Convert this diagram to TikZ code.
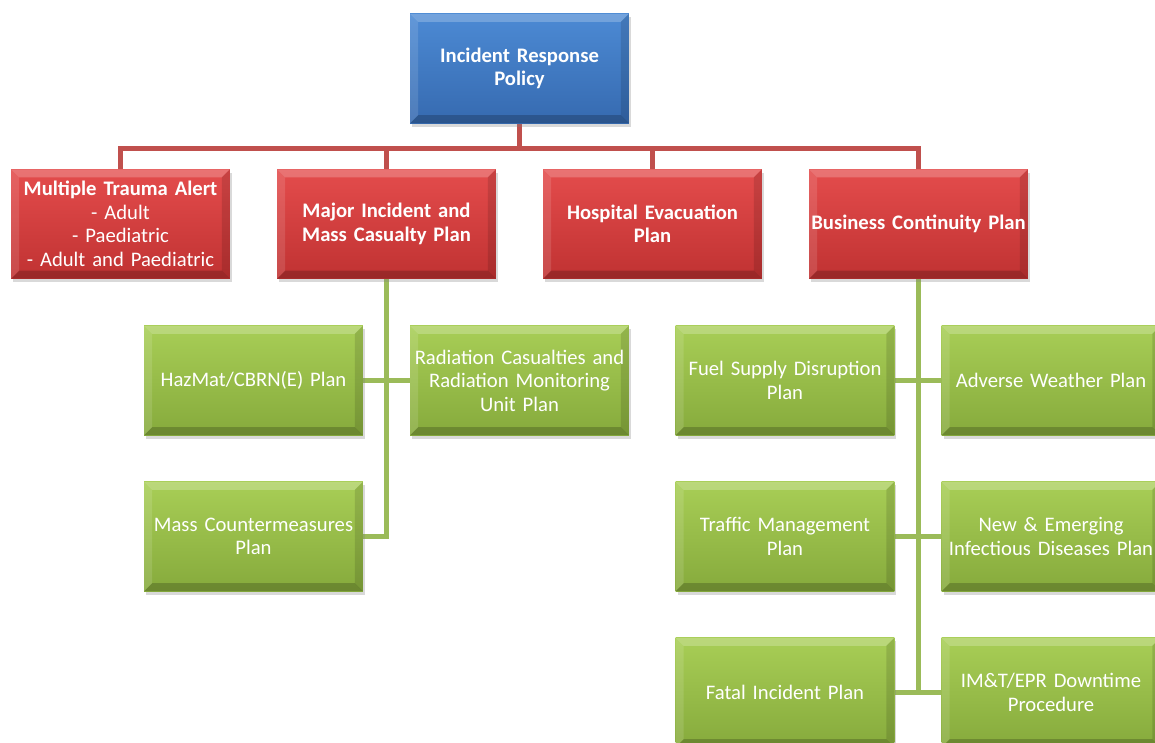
\documentclass[tikz,border=0pt]{standalone}
\usepackage{fontspec}
\setmainfont{Carlito}
\usetikzlibrary{shadows,backgrounds}
\definecolor{bluetop}{RGB}{76,138,212}
\definecolor{bluebot}{RGB}{54,106,176}
\definecolor{redtop}{RGB}{228,76,76}
\definecolor{redbot}{RGB}{192,50,50}
\definecolor{grntop}{RGB}{168,206,86}
\definecolor{grnbot}{RGB}{134,170,60}
\definecolor{rline}{RGB}{192,80,77}
\definecolor{gline}{RGB}{155,187,89}
\newcommand\bevelfx{%
\fill[white,opacity=.22] (path picture bounding box.north west) -- (path picture bounding box.north east) -- ([xshift=-6pt,yshift=-6pt]path picture bounding box.north east) -- ([xshift=6pt,yshift=-6pt]path picture bounding box.north west) -- cycle;
\fill[white,opacity=.12] (path picture bounding box.north west) -- ([xshift=6pt,yshift=-6pt]path picture bounding box.north west) -- ([xshift=6pt,yshift=6pt]path picture bounding box.south west) -- (path picture bounding box.south west) -- cycle;
\fill[black,opacity=.12] (path picture bounding box.north east) -- ([xshift=-6pt,yshift=-6pt]path picture bounding box.north east) -- ([xshift=-6pt,yshift=6pt]path picture bounding box.south east) -- (path picture bounding box.south east) -- cycle;
\fill[black,opacity=.2] (path picture bounding box.south west) -- ([xshift=6pt,yshift=6pt]path picture bounding box.south west) -- ([xshift=-6pt,yshift=6pt]path picture bounding box.south east) -- (path picture bounding box.south east) -- cycle;
}
\tikzset{
  box/.style={rectangle, minimum width=164pt, minimum height=82pt, inner sep=0pt,
    text width=164pt, align=center, text=white,
    font=\fontsize{15.5}{17.6}\selectfont,
    drop shadow={opacity=0.3, shadow xshift=1.5pt, shadow yshift=-2.5pt},
    path picture={\bevelfx}},
  bluebox/.style={box, top color=bluetop, bottom color=bluebot, font=\fontsize{15.5}{17.6}\selectfont\bfseries},
  redbox/.style={box, top color=redtop, bottom color=redbot, font=\fontsize{15.5}{17.6}\selectfont\bfseries},
  grnbox/.style={box, top color=grntop, bottom color=grnbot},
  redcon/.style={draw=rline, line width=3.75pt},
  grncon/.style={draw=gline, line width=3.75pt},
}
\begin{document}
\begin{tikzpicture}[x=0.75pt,y=-0.75pt]
\useasboundingbox (0,0) rectangle (1155,742);
\clip (0,0) rectangle (1155,742);
\node[bluebox] (top) at (519.5,68.5) {Incident Response\\Policy};
\node[redbox] (mta) at (120.5,224) {Multiple Trauma Alert\\\mdseries - Adult\\- Paediatric\\- Adult and Paediatric};
\node[redbox] (major) at (386.5,224) {Major Incident and\\Mass Casualty Plan};
\node[redbox] (hosp) at (652.5,224) {Hospital Evacuation\\Plan};
\node[redbox] (bus) at (918.5,224) {Business Continuity Plan};
\node[grnbox] (hazmat) at (253.5,380.5) {HazMat/CBRN(E) Plan};
\node[grnbox] (rad) at (519.5,380.5) {Radiation Casualties and\\Radiation Monitoring\\Unit Plan};
\node[grnbox] (mass) at (253.5,536.5) {Mass Countermeasures\\Plan};
\node[grnbox] (fuel) at (785,380.5) {Fuel Supply Disruption\\Plan};
\node[grnbox] (adverse) at (1051,380.5) {Adverse Weather Plan};
\node[grnbox] (traffic) at (785,536.5) {Traffic Management\\Plan};
\node[grnbox] (newem) at (1051,536.5) {New \& Emerging\\Infectious Diseases Plan};
\node[grnbox] (fatal) at (785,692.5) {Fatal Incident Plan};
\node[grnbox] (imt) at (1051,692.5) {IM\&T/EPR Downtime\\Procedure};
\begin{scope}[on background layer]
\draw[redcon] (top.south) -- ++(0,25) -| (mta.north);
\draw[redcon] (top.south) -- ++(0,25) -| (major.north);
\draw[redcon] (top.south) -- ++(0,25) -| (hosp.north);
\draw[redcon] (top.south) -- ++(0,25) -| (bus.north);
\draw[grncon] (major.south) |- (mass.east);
\draw[grncon] (hazmat.east) -- (rad.west);
\draw[grncon] (bus.south) |- (fatal.east);
\draw[grncon] (fatal.east) -- (imt.west);
\draw[grncon] (fuel.east) -- (adverse.west);
\draw[grncon] (traffic.east) -- (newem.west);
\end{scope}
\end{tikzpicture}
\end{document}
